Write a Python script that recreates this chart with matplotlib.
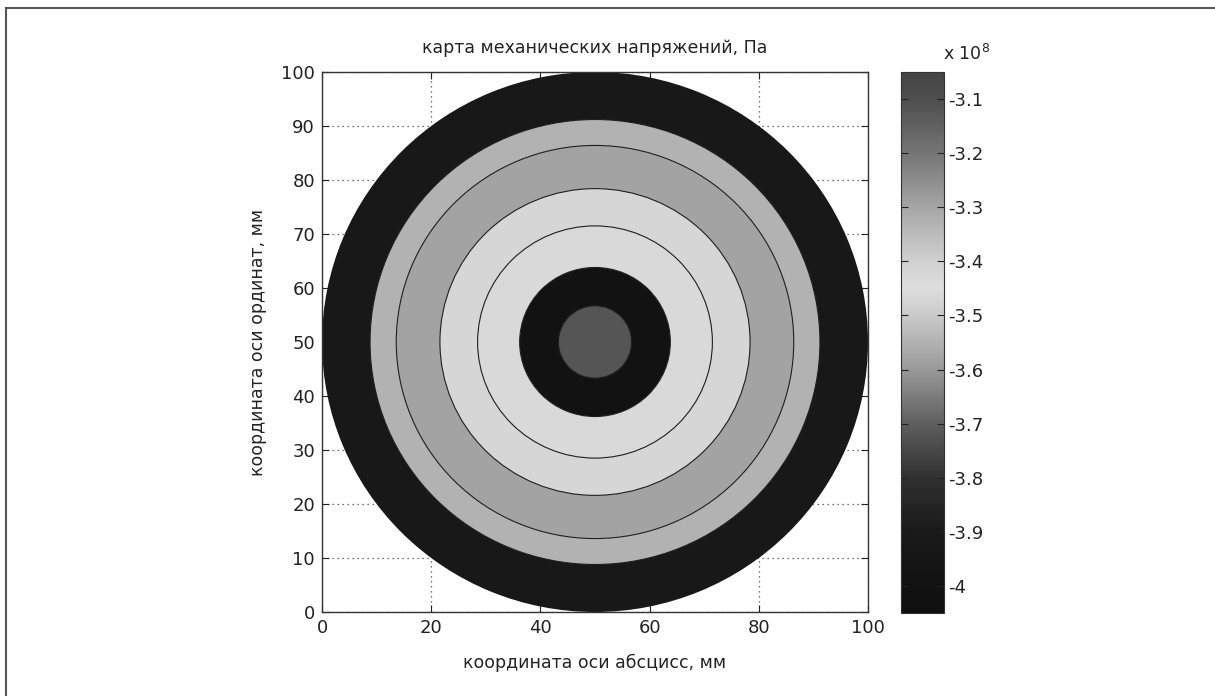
import numpy as np
import matplotlib
matplotlib.use("Agg")
import matplotlib.pyplot as plt
from matplotlib.patches import Wedge, Circle
from matplotlib.colors import LinearSegmentedColormap, Normalize
from matplotlib.cm import ScalarMappable
from matplotlib.lines import Line2D

plt.rcParams['font.family'] = ['DejaVu Sans']

# ---- data ----
title = "карта механических напряжений, Па"
xlabel = "координата оси абсцисс, мм"
ylabel = "координата оси ординат, мм"
center_x, center_y = 50.0, 50.0
# ring outer radii (mm), from centre outward
ring_outer_r = [6.7, 13.8, 21.5, 28.4, 36.4, 41.2, 50.0]
# stress value of each ring (x 1e8 Pa)
ring_stress = [-3.72, -4.00, -3.43, -3.47, -3.58, -3.55, -3.92]
# radii where contour lines are drawn
contour_r = [6.7, 13.8, 21.5, 28.4, 36.4, 41.2]
vmin, vmax = -4.05, -3.05
cbar_ticks = [-4.0, -3.9, -3.8, -3.7, -3.6, -3.5, -3.4, -3.3, -3.2, -3.1]
cbar_ticklabels = ["-4", "-3.9", "-3.8", "-3.7", "-3.6", "-3.5", "-3.4", "-3.3", "-3.2", "-3.1"]
xticks = [0, 20, 40, 60, 80, 100]
yticks = [0, 10, 20, 30, 40, 50, 60, 70, 80, 90, 100]

# grayscale colormap (jet seen in gray): stops as (fraction, gray level)
cmap_stops = [(0.00, 0.06), (0.05, 0.07), (0.15, 0.10), (0.25, 0.19),
              (0.35, 0.37), (0.45, 0.60), (0.55, 0.79), (0.60, 0.87),
              (0.65, 0.82), (0.75, 0.65), (0.85, 0.46), (0.95, 0.31), (1.00, 0.27)]
cmap = LinearSegmentedColormap.from_list(
    "jetgray", [(f, (g, g, g)) for f, g in cmap_stops], N=256)
norm = Normalize(vmin=vmin, vmax=vmax)

fig = plt.figure(figsize=(12.15, 6.96), dpi=100)

# outer frame (top and left)
fig.add_artist(Line2D([6/1215, 1.0], [1-8/696, 1-8/696], transform=fig.transFigure,
                      color="#555555", lw=1.5))
fig.add_artist(Line2D([6/1215, 6/1215], [0.0, 1-8/696], transform=fig.transFigure,
                      color="#555555", lw=1.5))

ax = fig.add_axes([322/1215, 84/696, 546/1215, 540/696])
inner = 0.0
for r_out, val in zip(ring_outer_r, ring_stress):
    ax.add_patch(Wedge((center_x, center_y), r_out, 0, 360, width=r_out - inner,
                       facecolor=cmap(norm(val)), edgecolor='none', zorder=2))
    inner = r_out
for r in contour_r:
    ax.add_patch(Circle((center_x, center_y), r, facecolor='none',
                        edgecolor='#1e1e1e', lw=0.8, zorder=3))

ax.set_xlim(0, 100)
ax.set_ylim(0, 100)
ax.set_xticks(xticks)
ax.set_yticks(yticks)
ax.grid(True, linestyle=(0, (1, 3)), color='#444444', lw=0.9)
ax.set_axisbelow(True)
ax.tick_params(direction='in', top=True, right=True, length=5, labelsize=13,
               colors='#222222', pad=5)
for s in ax.spines.values():
    s.set_color('#333333')
    s.set_linewidth(1.0)
ax.set_title(title, fontsize=12.5, color='#222222', pad=14)
ax.set_xlabel(xlabel, fontsize=12.5, color='#222222', labelpad=12)
ax.set_ylabel(ylabel, fontsize=12.5, color='#222222', labelpad=10)

cax = fig.add_axes([901/1215, 83/696, 43/1215, 541/696])
sm = ScalarMappable(norm=norm, cmap=cmap)
cb = fig.colorbar(sm, cax=cax)
cb.set_ticks(cbar_ticks)
cb.set_ticklabels(cbar_ticklabels)
cax.tick_params(direction='in', left=True, right=True, length=5, labelsize=13,
                colors='#222222', pad=3)
cb.outline.set_color('#333333')
cax.text(0.98, 1.015, r"x 10$^{8}$", transform=cax.transAxes, fontsize=12.5,
         color='#222222', ha='left', va='bottom')

fig.savefig("out.png", dpi=100, facecolor='white')
